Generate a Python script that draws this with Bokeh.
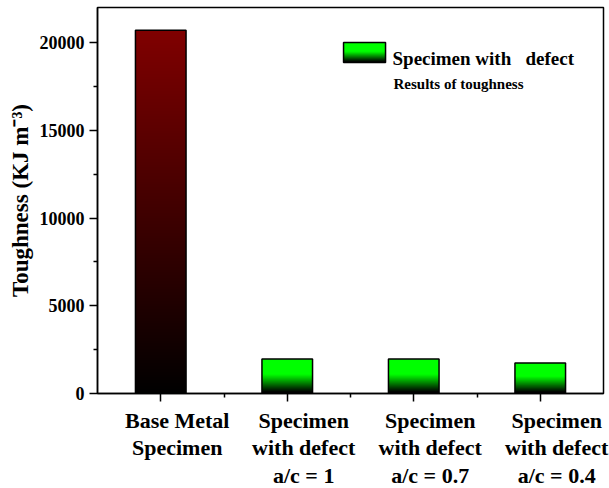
import numpy as np
from bokeh.plotting import figure
from bokeh.models import FixedTicker, LinearAxis, Range1d, Label
from bokeh.embed import file_html
from bokeh.resources import INLINE

# ---- data ----
categories = [
    "Base Metal\nSpecimen",
    "Specimen\nwith defect\na/c = 1",
    "Specimen\nwith defect\na/c = 0.7",
    "Specimen\nwith defect\na/c = 0.4",
]
toughness = [20700, 1960, 1960, 1740]
y_ticks = [0, 5000, 10000, 15000, 20000]
y_minor = [2500, 7500, 12500, 17500]
legend_title = "Specimen with \u00a0\u00a0defect"
legend_subtitle = "Results of toughness"
y_label = "Toughness (KJ m\u207B\u00B3)"

# ---- style ----
FONT = "Liberation Serif"
BAR_W = 0.40
LABEL_OFFSET = 0.13
N_ROWS = 256
RED = (128, 0, 0)
GREEN = (0, 255, 0)


def red_grad(t):
    return tuple(int(round(c * t)) for c in RED)


def green_grad(t):
    f = min(max((t - 0.05) / 0.5, 0.0), 1.0)
    return tuple(int(round(c * f)) for c in GREEN)


def gradient_image(fn, n=N_ROWS, cols=4):
    img = np.empty((n, cols), dtype=np.uint32)
    view = img.view(dtype=np.uint8).reshape((n, cols, 4))
    for k in range(n):
        r, g, b = fn((k + 0.5) / n)
        view[k, :, 0] = r
        view[k, :, 1] = g
        view[k, :, 2] = b
        view[k, :, 3] = 255
    return img


p = figure(
    frame_width=506, frame_height=386,
    x_range=Range1d(-0.5, 3.5), y_range=Range1d(0, 22000),
    output_backend="svg", toolbar_location=None,
    min_border_left=97, min_border_right=6, min_border_top=7, min_border_bottom=95,
)
p.xgrid.visible = False
p.ygrid.visible = False
p.outline_line_color = "black"
p.outline_line_width = 1.5
p.background_fill_color = "white"
p.border_fill_color = "white"

# gradient bars
xs = np.arange(len(toughness))
red_img = gradient_image(red_grad)
green_img = gradient_image(green_grad)
imgs = [red_img if i == 0 else green_img for i in range(len(toughness))]
p.image_rgba(image=imgs, x=list(xs - BAR_W / 2), y=[0] * len(toughness),
             dw=[BAR_W] * len(toughness), dh=toughness)
p.quad(left=xs - BAR_W / 2, right=xs + BAR_W / 2, bottom=0, top=toughness,
       fill_color=None, line_color="black", line_width=1.5)

# legend swatch (gradient)
sw_l, sw_r, sw_b, sw_t = 1.445, 1.777, 18865, 20005
p.image_rgba(image=[green_img], x=[sw_l], y=[sw_b], dw=[sw_r - sw_l], dh=[sw_t - sw_b])
p.quad(left=[sw_l], right=[sw_r], bottom=[sw_b], top=[sw_t], fill_color=None,
       line_color="black", line_width=1.5)
p.add_layout(Label(x=1.832, y=19093, text=legend_title, text_font=FONT,
                   text_font_style="bold", text_font_size="19px",
                   text_baseline="alphabetic", text_color="black"))
p.add_layout(Label(x=1.84, y=17668, text=legend_subtitle, text_font=FONT,
                   text_font_style="bold", text_font_size="15px",
                   text_baseline="alphabetic", text_color="black"))

# y axis
ya = p.yaxis[0]
ya.ticker = FixedTicker(ticks=y_ticks, minor_ticks=y_minor)
ya.axis_label = y_label
ya.axis_label_text_font = FONT
ya.axis_label_text_font_style = "bold"
ya.axis_label_text_font_size = "23px"
ya.axis_label_text_color = "black"
ya.axis_label_standoff = 4
ya.major_label_text_font = FONT
ya.major_label_text_font_style = "bold"
ya.major_label_text_font_size = "18px"
ya.major_label_text_color = "black"
ya.major_label_standoff = 5
ya.axis_line_width = 1.5
ya.major_tick_out = 8
ya.major_tick_in = 0
ya.minor_tick_out = 4
ya.minor_tick_in = 0
ya.major_tick_line_width = 1.5
ya.minor_tick_line_width = 1.5

# x axis ticks (labels drawn by a second axis, offset to the right)
xa = p.xaxis[0]
xa.ticker = FixedTicker(ticks=list(xs), minor_ticks=[0.5, 1.5, 2.5])
xa.major_label_overrides = {int(i): "" for i in xs}
xa.major_label_text_font_size = "1px"
xa.major_label_standoff = 0
xa.axis_line_width = 1.5
xa.major_tick_out = 8
xa.major_tick_in = 0
xa.minor_tick_out = 4
xa.minor_tick_in = 0
xa.major_tick_line_width = 1.5
xa.minor_tick_line_width = 1.5

lab_pos = [float(round(x + LABEL_OFFSET, 3)) for x in xs]
xa2 = LinearAxis(
    ticker=FixedTicker(ticks=lab_pos, minor_ticks=[]),
    major_label_overrides={pos: lab for pos, lab in zip(lab_pos, categories)},
    axis_line_color=None, major_tick_line_color=None, minor_tick_line_color=None,
    major_tick_out=0, major_tick_in=0,
    major_label_text_font=FONT, major_label_text_font_style="bold",
    major_label_text_font_size="22px", major_label_text_line_height=1.1,
    major_label_standoff=6, major_label_text_color="black",
)
p.add_layout(xa2, "below")

open("out.html", "w").write(file_html(p, INLINE))
